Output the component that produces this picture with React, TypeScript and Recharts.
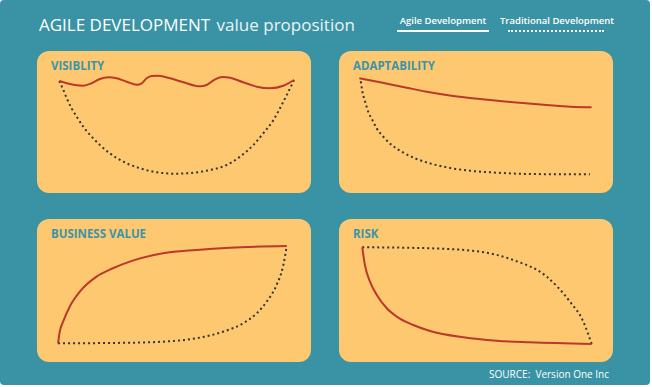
import React from "react";
import { LineChart, Line, XAxis, YAxis } from "recharts";

// Values on a 0–100 scale (x = time, y = level)
type Pt = [number, number];

const visibilityAgile: Pt[] = [
  [3.0, 94.3], [6.1, 92.2], [9.5, 90.6], [12.9, 89.9], [16.4, 92.2], [19.8, 96.2],
  [23.3, 97.8], [26.7, 96.9], [30.9, 93.7], [35.0, 90.9], [37.1, 92.2], [39.1, 96.9],
  [41.2, 99.1], [43.9, 99.3], [48.8, 96.9], [54.3, 93.1], [61.2, 89.3], [63.9, 90.6],
  [67.4, 95.9], [70.5, 98.1], [73.6, 97.5], [79.0, 93.1], [84.6, 89.0], [90.1, 87.5],
  [95.6, 89.9], [100, 95.3],
];
const visibilityTraditional: Pt[] = [
  [3.0, 94.3], [4.7, 85.8], [6.1, 78.0], [8.1, 68.6], [10.2, 60.7], [12.9, 51.3],
  [16.4, 41.8], [19.8, 34.0], [23.9, 26.1], [29.5, 18.2], [36.4, 12.0], [43.3, 8.2],
  [50.8, 6.9], [58.4, 7.8], [65.3, 10.4], [72.2, 15.1], [77.7, 22.9], [83.2, 34.0],
  [87.3, 45.0], [91.5, 57.5], [94.9, 71.7], [97.7, 84.3], [100, 95.3],
];

const adaptabilityAgile: Pt[] = [
  [2.6, 98.7], [11.2, 94.9], [22.2, 89.7], [31.7, 85.3], [41.4, 81.7], [52.5, 78.8],
  [66.3, 75.7], [80.0, 73.1], [89.7, 71.4], [98.6, 70.9],
];
const adaptabilityTraditional: Pt[] = [
  [3.2, 95.9], [3.8, 86.8], [5.0, 76.3], [6.3, 66.6], [8.0, 58.7], [9.8, 50.6],
  [12.5, 42.6], [16.0, 34.6], [20.1, 28.2], [25.7, 21.8], [31.7, 17.0], [38.6, 13.2],
  [48.3, 9.9], [59.2, 8.0], [73.1, 6.7], [97.9, 6.4],
];

const businessAgile: Pt[] = [
  [2.5, 6.4], [3.2, 17.6], [4.6, 27.2], [7.3, 41.6], [11.5, 56.1], [18.4, 70.5],
  [25.2, 78.6], [32.1, 85.0], [45.9, 93.0], [59.7, 96.2], [73.5, 98.4], [97.0, 100],
];
const businessTraditional: Pt[] = [
  [2.5, 6.4], [32.1, 7.0], [45.9, 8.0], [59.7, 11.3], [70.7, 17.6], [79.0, 25.7],
  [84.6, 35.3], [88.7, 46.4], [92.8, 62.5], [95.6, 81.7], [97.0, 100],
];

const riskAgile: Pt[] = [
  [3.8, 98.8], [4.9, 81.7], [7.0, 65.7], [9.8, 52.9], [13.9, 40.1], [18.0, 32.1],
  [24.8, 24.0], [31.7, 18.3], [45.4, 12.2], [59.1, 8.9], [72.8, 7.4], [98.2, 5.8],
];
const riskTraditional: Pt[] = [
  [3.8, 98.8], [31.7, 97.8], [52.3, 94.5], [66.0, 86.5], [79.7, 70.5], [89.3, 46.4],
  [94.8, 27.2], [98.2, 5.8],
];

const BG = "#3993a5";
const PANEL = "#fec870";
const TEAL = "#3a95a8";
const RED = "#b9392a";
const DOTS = "#333";
const FONT = "'Open Sans', 'Noto Sans', sans-serif";

const toRows = (pts: Pt[]) => pts.map(([x, y]) => ({ x, y }));

interface PanelProps {
  title: string;
  left: number;
  top: number;
  height: number;
  agile: Pt[];
  traditional: Pt[];
  margin: { top: number; right: number; bottom: number; left: number };
}

const Panel = ({ title, left, top, height, agile, traditional, margin }: PanelProps) => (
  <div
    style={{
      position: "absolute",
      left,
      top,
      width: 274,
      height,
      background: PANEL,
      borderRadius: 12,
    }}
  >
    <div
      style={{
        position: "absolute",
        left: 14,
        top: 8,
        fontFamily: FONT,
        fontWeight: 700,
        fontSize: 11.5,
        color: TEAL,
        lineHeight: "14px",
      }}
    >
      {title}
    </div>
    <LineChart width={274} height={height} margin={margin}>
      <XAxis
        type="number"
        dataKey="x"
        domain={[0, 100]}
        tick={false}
        tickLine={false}
        height={0}
        axisLine={{ stroke: "#fff", strokeWidth: 2.5 }}
      />
      <YAxis
        type="number"
        dataKey="y"
        domain={[0, 100]}
        tick={false}
        tickLine={false}
        width={0}
        axisLine={{ stroke: "#fff", strokeWidth: 2.5 }}
      />
      <Line
        data={toRows(traditional)}
        dataKey="y"
        type="monotone"
        stroke={DOTS}
        strokeWidth={2}
        strokeDasharray="2 3"
        dot={false}
        isAnimationActive={false}
      />
      <Line
        data={toRows(agile)}
        dataKey="y"
        type="monotone"
        stroke={RED}
        strokeWidth={2}
        dot={false}
        isAnimationActive={false}
      />
    </LineChart>
  </div>
);

export default function App() {
  return (
    <div
      style={{
        position: "fixed",
        left: 0,
        top: 0,
        width: 652,
        height: 387,
        background: "#fff",
      }}
    >
      <div
        style={{
          position: "absolute",
          left: 0,
          top: 0,
          width: 650,
          height: 385,
          background: BG,
          borderRadius: 4,
        }}
      />
      <div
        style={{
          position: "absolute",
          left: 39,
          top: 14,
          fontFamily: FONT,
          fontSize: 17,
          color: "#fff",
          whiteSpace: "nowrap",
          lineHeight: "22px",
        }}
      >
        AGILE DEVELOPMENT{" "}
        <span style={{ color: "#e9f3f5", marginLeft: 2 }}>value proposition</span>
      </div>

      <div
        style={{
          position: "absolute",
          left: 397,
          top: 14,
          width: 92,
          textAlign: "center",
          fontFamily: FONT,
          fontWeight: 600,
          fontSize: 9.5,
          color: "#fff",
          lineHeight: "14px",
          paddingBottom: 2,
          borderBottom: "2px solid #fff",
          whiteSpace: "nowrap",
        }}
      >
        Agile Development
      </div>
      <div
        style={{
          position: "absolute",
          left: 500,
          top: 14,
          width: 112,
          textAlign: "center",
          fontFamily: FONT,
          fontWeight: 600,
          fontSize: 9.5,
          color: "#fff",
          lineHeight: "14px",
          whiteSpace: "nowrap",
        }}
      >
        Traditional Development
        <div
          style={{
            margin: "2px auto 0",
            width: 96,
            borderBottom: "2px dotted #fff",
          }}
        />
      </div>

      <Panel
        title="VISIBLITY"
        left={37}
        top={51}
        height={142}
        agile={visibilityAgile}
        traditional={visibilityTraditional}
        margin={{ top: 24, right: 17, bottom: 12, left: 15 }}
      />
      <Panel
        title="ADAPTABILITY"
        left={339}
        top={51}
        height={142}
        agile={adaptabilityAgile}
        traditional={adaptabilityTraditional}
        margin={{ top: 26, right: 18, bottom: 12, left: 14 }}
      />
      <Panel
        title="BUSINESS VALUE"
        left={37}
        top={219}
        height={143}
        agile={businessAgile}
        traditional={businessTraditional}
        margin={{ top: 27, right: 17, bottom: 12, left: 15 }}
      />
      <Panel
        title="RISK"
        left={339}
        top={219}
        height={143}
        agile={riskAgile}
        traditional={riskTraditional}
        margin={{ top: 27, right: 17, bottom: 12, left: 14 }}
      />

      <div
        style={{
          position: "absolute",
          right: 43,
          top: 367,
          fontFamily: FONT,
          fontSize: 10,
          color: "#fff",
          lineHeight: "14px",
          whiteSpace: "pre",
        }}
      >
        SOURCE:  Version One Inc
      </div>
    </div>
  );
}
